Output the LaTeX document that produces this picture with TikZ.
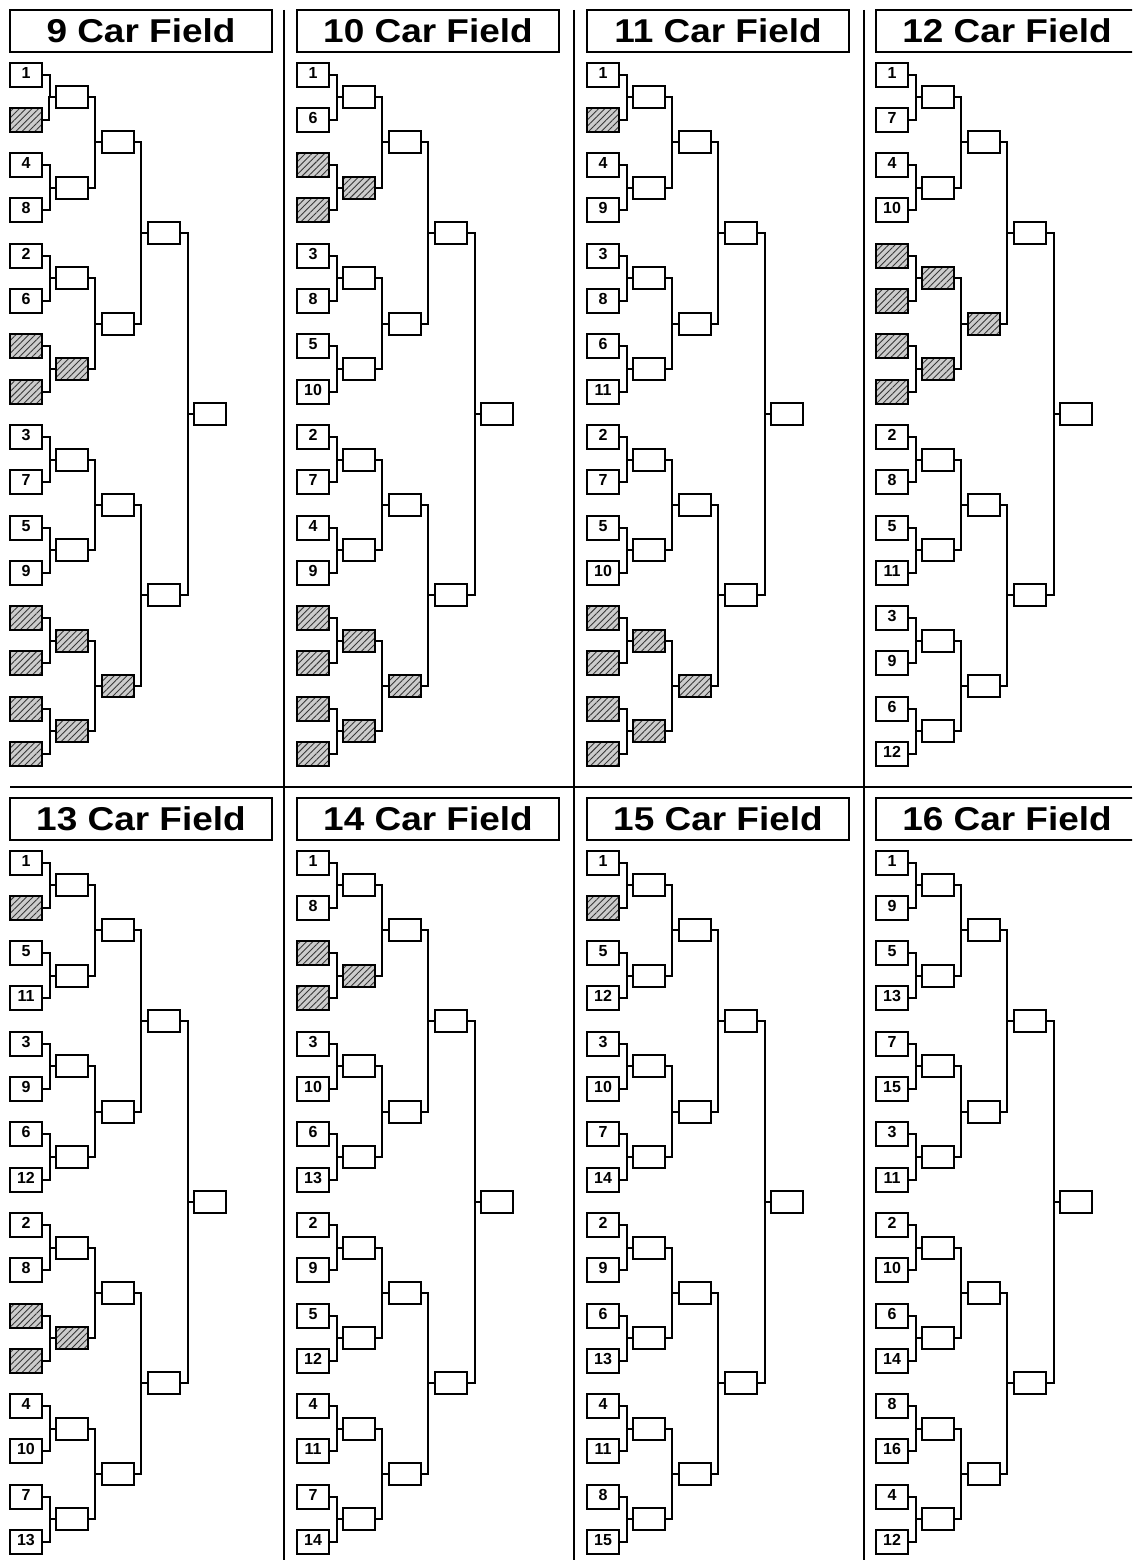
\documentclass[tikz,border=0pt]{standalone}
\usepackage{fontspec}
\setmainfont{Liberation Sans}
\newfontfamily\titlefont{Liberation Sans}[FakeStretch=1.12]
\usetikzlibrary{patterns.meta}

\tikzset{
  seedbox/.style={draw, line width=2pt, minimum width=32pt, minimum height=24pt, inner sep=0pt,
    font=\bfseries\fontsize{16}{16}\selectfont, text height=11.5pt, text depth=5pt},
  rbox/.style={draw, line width=2pt, minimum width=32pt, minimum height=22pt, inner sep=0pt},
  bye/.style={preaction={fill=black!20}, pattern={Lines[angle=45,distance=4.5pt,line width=0.9pt]}, pattern color=black!78},
  titlebox/.style={draw, line width=2pt, minimum width=262pt, minimum height=42pt, inner sep=0pt,
    font=\titlefont\bfseries\fontsize{33}{33}\selectfont},
  conn/.style={line width=2pt},
  divider/.style={line width=2pt}
}

% #1 id, #2 X, #3 Y0, #4 title, #5 seeds (0 = bye), #6 round-2 bye flags, #7 round-3 bye flags
\newcommand\bracketpanel[7]{%
  \node[titlebox] (t#1) at (#2+131, #3+31) {#4};
  \foreach \n [count=\i from 0] in {#5} {
    \pgfmathsetmacro\yy{round(#3+74.5+45.3*\i)}
    \ifnum\n=0
      \node[seedbox,bye] (s#1-\i) at (#2+16,\yy) {};
    \else
      \node[seedbox] (s#1-\i) at (#2+16,\yy) {\n};
    \fi
  }
  \foreach \f [count=\j from 0] in {#6} {
    \pgfmathsetmacro\yy{round(#3+74.5+45.3*(2*\j+0.5))}
    \ifnum\f=1
      \node[rbox,bye] (a#1-\j) at (#2+62,\yy) {};
    \else
      \node[rbox] (a#1-\j) at (#2+62,\yy) {};
    \fi
  }
  \foreach \f [count=\k from 0] in {#7} {
    \pgfmathsetmacro\yy{round(#3+74.5+45.3*(4*\k+1.5))}
    \ifnum\f=1
      \node[rbox,bye] (b#1-\k) at (#2+108,\yy) {};
    \else
      \node[rbox] (b#1-\k) at (#2+108,\yy) {};
    \fi
  }
  \foreach \m in {0,1} {
    \pgfmathsetmacro\yy{round(#3+74.5+45.3*(8*\m+3.5))}
    \node[rbox] (c#1-\m) at (#2+154,\yy) {};
  }
  \pgfmathsetmacro\yf{round(#3+74.5+45.3*7.5)}
  \node[rbox] (f#1) at (#2+200,\yf) {};
  % connectors
  \foreach \j in {0,...,7} {
    \pgfmathtruncatemacro\ca{2*\j}
    \pgfmathtruncatemacro\cb{2*\j+1}
    \draw[conn] (s#1-\ca.east) -- ++(7,0) |- (a#1-\j.west);
    \draw[conn] (s#1-\cb.east) -- ++(7,0) |- (a#1-\j.west);
  }
  \foreach \k in {0,...,3} {
    \pgfmathtruncatemacro\ca{2*\k}
    \pgfmathtruncatemacro\cb{2*\k+1}
    \draw[conn] (a#1-\ca.east) -- ++(6,0) |- (b#1-\k.west);
    \draw[conn] (a#1-\cb.east) -- ++(6,0) |- (b#1-\k.west);
  }
  \foreach \m in {0,1} {
    \pgfmathtruncatemacro\ca{2*\m}
    \pgfmathtruncatemacro\cb{2*\m+1}
    \draw[conn] (b#1-\ca.east) -- ++(6,0) |- (c#1-\m.west);
    \draw[conn] (b#1-\cb.east) -- ++(6,0) |- (c#1-\m.west);
  }
  \draw[conn] (c#1-0.east) -- ++(7,0) |- (f#1.west);
  \draw[conn] (c#1-1.east) -- ++(7,0) |- (f#1.west);
}

\begin{document}
\begin{tikzpicture}[x=1pt,y=-1pt]
\useasboundingbox (0,0) rectangle (1132,1560);
\clip (0,0) rectangle (1132,1560);
\fill[white] (0,0) rectangle (1132,1560);

% dividers
\draw[divider] (284,10) -- (284,1560);
\draw[divider] (574,10) -- (574,1560);
\draw[divider] (864,10) -- (864,1560);
\draw[divider] (10,787) -- (1132,787);

\bracketpanel{p1}{10}{0}{9 Car Field}{1,0,4,8,2,6,0,0,3,7,5,9,0,0,0,0}{0,0,0,1,0,0,1,1}{0,0,0,1}
\bracketpanel{p2}{297}{0}{10 Car Field}{1,6,0,0,3,8,5,10,2,7,4,9,0,0,0,0}{0,1,0,0,0,0,1,1}{0,0,0,1}
\bracketpanel{p3}{587}{0}{11 Car Field}{1,0,4,9,3,8,6,11,2,7,5,10,0,0,0,0}{0,0,0,0,0,0,1,1}{0,0,0,1}
\bracketpanel{p4}{876}{0}{12 Car Field}{1,7,4,10,0,0,0,0,2,8,5,11,3,9,6,12}{0,0,1,1,0,0,0,0}{0,1,0,0}

\bracketpanel{p5}{10}{788}{13 Car Field}{1,0,5,11,3,9,6,12,2,8,0,0,4,10,7,13}{0,0,0,0,0,1,0,0}{0,0,0,0}
\bracketpanel{p6}{297}{788}{14 Car Field}{1,8,0,0,3,10,6,13,2,9,5,12,4,11,7,14}{0,1,0,0,0,0,0,0}{0,0,0,0}
\bracketpanel{p7}{587}{788}{15 Car Field}{1,0,5,12,3,10,7,14,2,9,6,13,4,11,8,15}{0,0,0,0,0,0,0,0}{0,0,0,0}
\bracketpanel{p8}{876}{788}{16 Car Field}{1,9,5,13,7,15,3,11,2,10,6,14,8,16,4,12}{0,0,0,0,0,0,0,0}{0,0,0,0}
\end{tikzpicture}
\end{document}
